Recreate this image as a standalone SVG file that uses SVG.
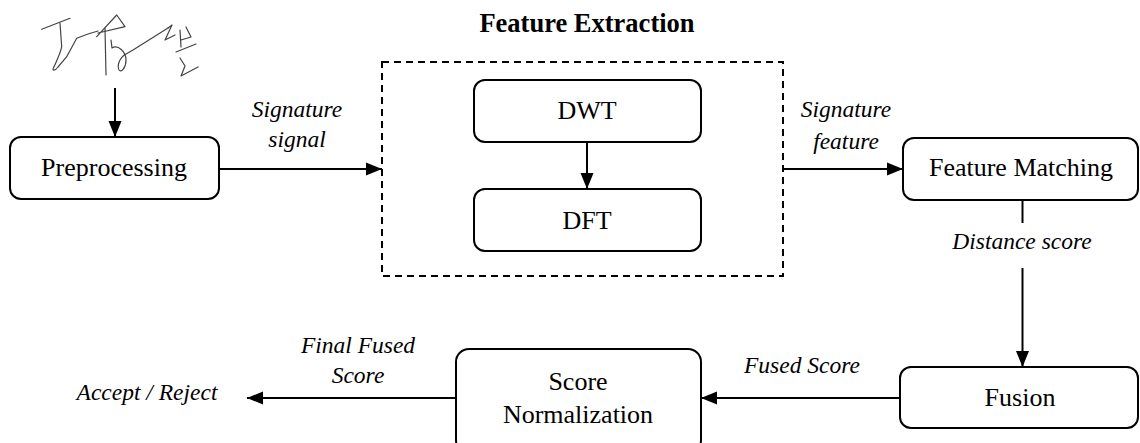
<svg xmlns="http://www.w3.org/2000/svg" width="1140" height="443" viewBox="0 0 1140 443">
<defs>
<style>
.box{fill:#fff;stroke:#000;stroke-width:2}
.dash{fill:none;stroke:#000;stroke-width:2;stroke-dasharray:7,5}
text{font-family:"Liberation Serif","Tinos","Times New Roman","DejaVu Serif",serif;fill:#000;text-anchor:middle}
.t{font-size:26px}
.b{font-size:26.5px;font-weight:bold}
.i{font-size:23.5px;font-style:italic}
.c{fill:none;stroke:#000;stroke-width:2}
.sig{fill:none;stroke:#444;stroke-width:1.2;stroke-linejoin:round;stroke-linecap:round}
</style>
<marker id="ah" markerUnits="userSpaceOnUse" markerWidth="16" markerHeight="14" refX="16" refY="7" orient="auto">
<path d="M0,0.5 L16,7 L0,13.5 Z" fill="#000"/>
</marker>
</defs>
<rect width="1140" height="443" fill="#fff"/>

<g id="signature">
<path class="sig" d="M41.7,29.3 L70,18.3 M60,23.3 L61.7,46.7 C60,55 56,62 53.3,68.3 C52,71 55,71 58,67 L66.7,56.7 L76.7,38.3 L88,34 L98,31"/>
<path class="sig" d="M96.7,36.7 L116.7,15 L125,26.7 L98,33"/>
<path class="sig" d="M105,28 L106,75"/>
<path class="sig" d="M111,40 L112,48 C118,44 126,52 126,60 C126,68 121,73 119,70 C117,66 119,58 126,54 L133,50 L168,28"/>
<path class="sig" d="M168,28 L172,25 L165,40 L175,35 M186,27 L191,37 L181,40 M180,30 L181,47 M176,52 L196,44 M180,58 L185,66 L181,76 L198,67"/>
</g>

<g id="title">
<text class="b" x="587" y="32">Feature Extraction</text>
</g>

<g id="preprocessing">
<rect class="box" x="10" y="137" width="209" height="62" rx="11"/>
<text class="t" x="114" y="176">Preprocessing</text>
</g>

<g id="feature-extraction">
<rect class="dash" x="382" y="62" width="401" height="214"/>
</g>

<g id="dwt">
<rect class="box" x="474" y="80" width="227" height="62" rx="11"/>
<text class="t" x="587" y="119">DWT</text>
</g>

<g id="dft">
<rect class="box" x="474" y="189" width="227" height="62" rx="11"/>
<text class="t" x="587" y="229">DFT</text>
</g>

<g id="feature-matching">
<rect class="box" x="903" y="138" width="235" height="62" rx="11"/>
<text class="t" x="1021" y="176">Feature Matching</text>
</g>

<g id="fusion">
<rect class="box" x="900" y="367" width="238" height="61" rx="11"/>
<text class="t" x="1020" y="406">Fusion</text>
</g>

<g id="score-normalization">
<rect class="box" x="456" y="349" width="245" height="104" rx="13"/>
<text class="t" x="578" y="390">Score</text>
<text class="t" x="578" y="423">Normalization</text>
</g>

<g id="accept-reject">
<text class="i" x="147" y="400">Accept / Reject</text>
</g>

<g id="connectors">
<line class="c" x1="115" y1="88" x2="115" y2="137" marker-end="url(#ah)"/>
<line class="c" x1="219" y1="169" x2="382" y2="169" marker-end="url(#ah)"/>
<line class="c" x1="587" y1="142" x2="587" y2="189" marker-end="url(#ah)"/>
<line class="c" x1="783" y1="169" x2="903" y2="169" marker-end="url(#ah)"/>
<line class="c" x1="1022.5" y1="200" x2="1022.5" y2="223"/>
<line class="c" x1="1022.5" y1="268" x2="1022.5" y2="367" marker-end="url(#ah)"/>
<line class="c" x1="900" y1="398" x2="701" y2="398" marker-end="url(#ah)"/>
<line class="c" x1="456" y1="398" x2="247" y2="398" marker-end="url(#ah)"/>
<text class="i" x="297" y="117">Signature</text>
<text class="i" x="297" y="147">signal</text>
<text class="i" x="846" y="117">Signature</text>
<text class="i" x="846" y="149">feature</text>
<text class="i" x="1022" y="249">Distance score</text>
<text class="i" x="802" y="373">Fused Score</text>
<text class="i" x="358" y="353">Final Fused</text>
<text class="i" x="358" y="383">Score</text>
</g>
</svg>
